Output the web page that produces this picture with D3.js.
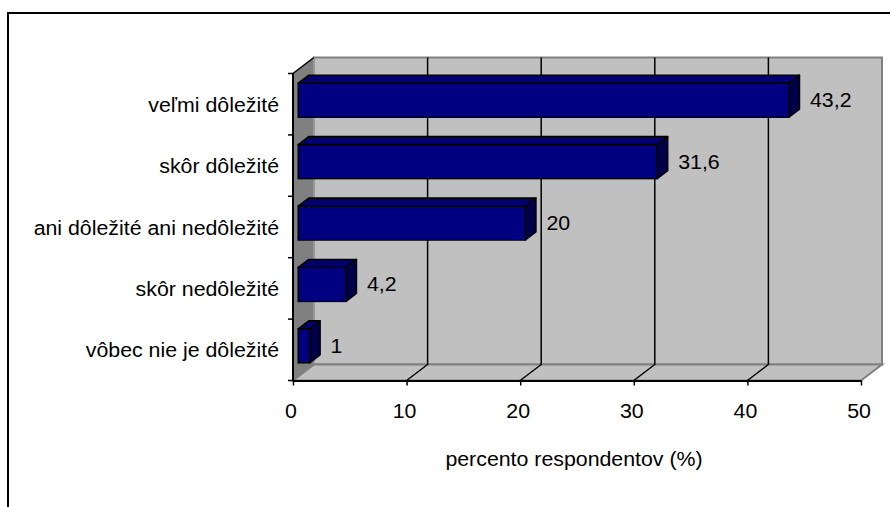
<!DOCTYPE html>
<html><head><meta charset="utf-8">
<script src="https://cdn.jsdelivr.net/npm/d3@7"></script>
<style>html,body{margin:0;padding:0;background:#fff;overflow:hidden}</style>
</head><body><svg id="c" width="890" height="507"></svg>
<script>
const categories = ["veľmi dôležité","skôr dôležité","ani dôležité ani nedôležité","skôr nedôležité","vôbec nie je dôležité"];
const values = [43.2, 31.6, 20, 4.2, 1];
const valueLabels = ["43,2","31,6","20","4,2","1"];
const xTicks = [0,10,20,30,40,50];
const xTickLabels = ["0","10","20","30","40","50"];
const axisTitle = "percento respondentov (%)";

const svg = d3.select("#c");
const FONT = "'Liberation Sans', Arial, sans-serif";
const FS = 19.4, SX = 1.1;
const DX = 21, DY = -16;

const x = d3.scaleLinear().domain([0,50]).range([293, 861]);
const y = d3.scaleBand().domain(categories).range([73.5, 380.5]).padding(0);
const yTop = y.range()[0], yBot = y.range()[1];

function txt(g, s, px, py, anchor){
  return g.append("text").attr("transform",`translate(${px},${py}) scale(${SX},1)`)
    .attr("text-anchor",anchor).attr("font-family",FONT).attr("font-size",FS).attr("fill","#000").text(s);
}

// outer border
svg.append("rect").attr("x",8).attr("y",13).attr("width",900).attr("height",520)
  .attr("fill","#fff").attr("stroke","#000").attr("stroke-width",2);

const x0 = x(0), x1 = x(50);
// back wall
svg.append("polygon").attr("points",[[x0+DX,yTop+DY],[x1+DX,yTop+DY],[x1+DX,yBot+DY],[x0+DX,yBot+DY]].join(" "))
  .attr("fill","#c0c0c0").attr("stroke","#808080").attr("stroke-width",2);
// side wall
svg.append("polygon").attr("points",[[x0,yTop],[x0+DX,yTop+DY],[x0+DX,yBot+DY],[x0,yBot]].join(" "))
  .attr("fill","#808080").attr("stroke","#a0a0a0").attr("stroke-width",1.5);
// floor
svg.append("polygon").attr("points",[[x0,yBot],[x1,yBot],[x1+DX,yBot+DY],[x0+DX,yBot+DY]].join(" "))
  .attr("fill","#c0c0c0").attr("stroke","#808080").attr("stroke-width",2);
// side wall top edge
svg.append("line").attr("x1",x0).attr("y1",yTop).attr("x2",x0+DX).attr("y2",yTop+DY)
  .attr("stroke","#000").attr("stroke-width",1.5);

// gridlines
const grid = xTicks.filter(t=>t>0 && t<50);
grid.forEach(t=>{
  svg.append("polyline").attr("points",[[x(t),yBot],[x(t)+DX,yBot+DY],[x(t)+DX,yTop+DY]].join(" "))
    .attr("fill","none").attr("stroke","#000").attr("stroke-width",1.5);
});

// bars
const zf = 0.25, zb = 0.75;
const fdx = DX*zf, fdy = DY*zf, ddx = DX*(zb-zf), ddy = DY*(zb-zf);
const bh = y.bandwidth()*0.554/2;
const bars = svg.append("g");
categories.forEach((c,i)=>{
  const v = values[i];
  const yc = y(c) + y.bandwidth()/2 + fdy;
  const bx0 = x(0)+fdx, bx1 = x(v)+fdx, by0 = yc-bh, by1 = yc+bh;
  bars.append("polygon").attr("points",[[bx0,by0],[bx1,by0],[bx1+ddx,by0+ddy],[bx0+ddx,by0+ddy]].join(" "))
    .attr("fill","#00006e").attr("stroke","#000").attr("stroke-width",1.5).attr("stroke-linejoin","round");
  bars.append("polygon").attr("points",[[bx1,by0],[bx1+ddx,by0+ddy],[bx1+ddx,by1+ddy],[bx1,by1]].join(" "))
    .attr("fill","#00004a").attr("stroke","#000").attr("stroke-width",1.5).attr("stroke-linejoin","round");
  bars.append("rect").attr("x",bx0).attr("y",by0).attr("width",bx1-bx0).attr("height",by1-by0)
    .attr("fill","#000080").attr("stroke","#000").attr("stroke-width",1.5);
  txt(svg, valueLabels[i], x(v)+fdx+21, yc+7, "start");
});

// x axis
const xa = svg.append("g").attr("transform",`translate(0,${yBot})`)
  .call(d3.axisBottom(x).tickValues(xTicks).tickSize(5).tickSizeOuter(0).tickFormat((d,i)=>xTickLabels[i]));
xa.select(".domain").attr("stroke","#000").attr("stroke-width",2);
xa.selectAll(".tick line").attr("stroke","#000").attr("stroke-width",1.5);
xa.selectAll(".tick text").remove();
xTicks.forEach((t,i)=>txt(svg, xTickLabels[i], x(t)-2, 418, "middle"));

// y axis
svg.append("line").attr("x1",x0).attr("y1",yTop).attr("x2",x0).attr("y2",yBot).attr("stroke","#000").attr("stroke-width",2);
const bounds = categories.map(c=>y(c)).concat([yBot]);
bounds.forEach(b=>svg.append("line").attr("x1",x0-5).attr("x2",x0).attr("y1",b).attr("y2",b).attr("stroke","#000").attr("stroke-width",1.5));
categories.forEach(c=>txt(svg, c, 279, y(c)+y.bandwidth()/2+7.5, "end"));

// axis title
txt(svg, axisTitle, 574, 466, "middle");
</script></body></html>
